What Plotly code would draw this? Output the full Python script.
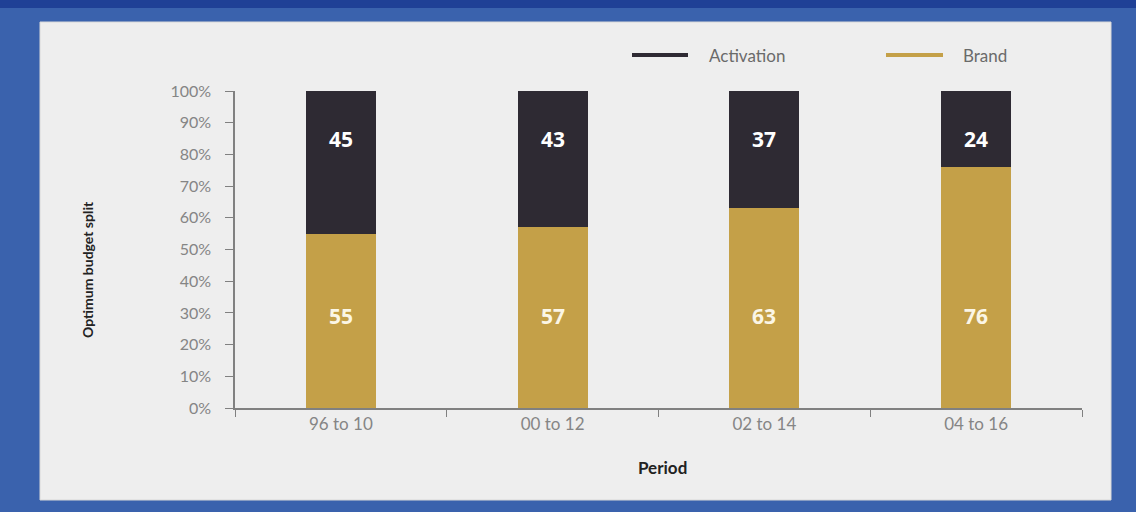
import plotly.graph_objects as go

periods = ["96 to 10", "00 to 12", "02 to 14", "04 to 16"]
brand = [55, 57, 63, 76]
activation = [45, 43, 37, 24]
y_ticks = [0, 10, 20, 30, 40, 50, 60, 70, 80, 90, 100]
y_tick_text = [f"{v}%" for v in y_ticks]
series_names = ["Activation", "Brand"]

DARK = "#2e2a33"
GOLD = "#c4a048"
LABEL_Y_ACT = 85
LABEL_Y_BRAND = 29

PLOT_L, PLOT_R, PLOT_T, PLOT_B = 235, 1082, 91, 408
W, H = 1136, 512


def px_x(px):
    return (px - PLOT_L) / (PLOT_R - PLOT_L)


def px_y(py):
    return (PLOT_B - py) / (PLOT_B - PLOT_T)


fig = go.Figure()
fig.add_trace(go.Bar(x=periods, y=brand, name="Brand", marker=dict(color=GOLD, line_width=0),
                     showlegend=False, width=0.33))
fig.add_trace(go.Bar(x=periods, y=activation, name="Activation", marker=dict(color=DARK, line_width=0),
                     showlegend=False, width=0.33))

for p, a, b in zip(periods, activation, brand):
    fig.add_annotation(x=p, y=LABEL_Y_ACT, text=f"<b>{a}</b>", showarrow=False,
                       font=dict(family="Open Sans", size=21, color="white"))
    fig.add_annotation(x=p, y=LABEL_Y_BRAND, text=f"<b>{b}</b>", showarrow=False,
                       font=dict(family="Open Sans", size=21, color="#fbf6e6"))

# background decoration
fig.add_shape(type="rect", xref="paper", yref="paper", x0=px_x(0), x1=px_x(W), y0=px_y(8), y1=px_y(0),
              fillcolor="#1f4096", line_width=0, layer="below")
fig.add_shape(type="rect", xref="paper", yref="paper", x0=px_x(40), x1=px_x(1111), y0=px_y(500), y1=px_y(22),
              fillcolor="#eeeeee", line=dict(color="#d8d8d8", width=1), layer="below")

# legend drawn as line swatches + labels
legend_items = [(series_names[0], DARK, 632, 688, 707), (series_names[1], GOLD, 886, 943, 961)]
for name, col, lx0, lx1, tx in legend_items:
    fig.add_shape(type="line", xref="paper", yref="paper", x0=px_x(lx0), x1=px_x(lx1),
                  y0=px_y(55), y1=px_y(55), line=dict(color=col, width=4))
    fig.add_annotation(xref="paper", yref="paper", x=px_x(tx), y=px_y(55), xanchor="left",
                       yanchor="middle", text=name, showarrow=False,
                       font=dict(family="Lato", size=17, color="#6a6a6a"))

# axis titles
fig.add_annotation(xref="paper", yref="paper", x=px_x(87), y=px_y(270), xanchor="center", yanchor="middle",
                   text="<b>Optimum budget split</b>", textangle=-90, showarrow=False,
                   font=dict(family="Lato", size=14, color="#222222"))
fig.add_annotation(xref="paper", yref="paper", x=px_x(662), y=px_y(467), xanchor="center", yanchor="middle",
                   text="<b>Period</b>", showarrow=False,
                   font=dict(family="Lato", size=17, color="#222222"))

fig.update_layout(
    width=W, height=H,
    margin=dict(l=PLOT_L, r=W - PLOT_R, t=PLOT_T, b=H - PLOT_B),
    barmode="stack",
    showlegend=False,
    paper_bgcolor="#3a62ad",
    plot_bgcolor="rgba(0,0,0,0)",
    font=dict(family="Lato", color="#858585"),
    xaxis=dict(showline=True, linecolor="#808080", linewidth=1.5, ticks="outside",
               tickson="boundaries", ticklen=7, tickcolor="#808080",
               tickfont=dict(size=17, color="#858585"), showgrid=False),
    yaxis=dict(range=[0, 100], tickvals=y_ticks, ticktext=y_tick_text, showline=True,
               linecolor="#808080", linewidth=1.5, ticks="outside", ticklen=8, tickcolor="#808080",
               ticklabelstandoff=11,
               tickfont=dict(size=16, color="#858585"), showgrid=False, zeroline=False),
)

fig.write_html("out.html")
